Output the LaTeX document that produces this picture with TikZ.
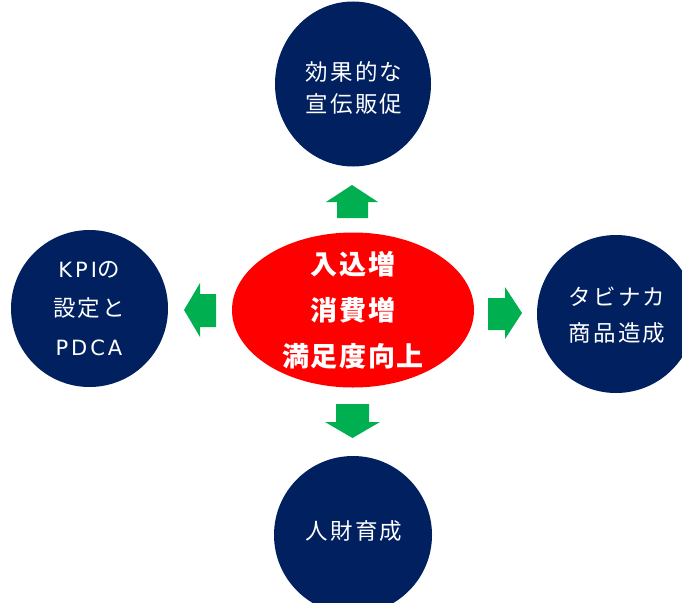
\documentclass[tikz,border=0pt]{standalone}
\usepackage{fontspec}
\usetikzlibrary{shapes.geometric}
\newfontfamily\jp{Noto Sans CJK JP}[LetterSpace=9]
\newfontfamily\jphub{Noto Sans CJK JP}[LetterSpace=6]
\newfontfamily\lat{DejaVu Sans}[LetterSpace=14]
\definecolor{navy}{HTML}{002060}
\definecolor{arrowgreen}{HTML}{00B050}
\definecolor{hubred}{HTML}{FF0000}
\tikzset{
  sat/.style={circle, fill=navy, minimum size=157pt, inner sep=0pt},
  sattext/.style={text=white, align=center, font=\jp\fontsize{22.5}{#1}\selectfont, inner sep=0pt},
  hubtext/.style={text=white, align=center, font=\jphub\bfseries\fontsize{27}{46}\selectfont, inner sep=0pt},
  garrow/.style={fill=arrowgreen}
}
\begin{document}
\begin{tikzpicture}[x=1pt,y=-1pt]
\useasboundingbox (0,0) rectangle (682,602);
\clip (0,0) rectangle (682,602);
% satellites
\node[ellipse, fill=navy, inner sep=0pt, minimum width=156pt, minimum height=165pt] (top) at (353,84) {};
\node[sat] (left) at (89.5,308.5) {};
\node[sat, minimum size=158pt] (right) at (616,314) {};
\node[sat, minimum size=158pt] (bottom) at (353,535) {};
% hub
\node[ellipse, fill=hubred, minimum width=242pt, minimum height=155pt, inner sep=0pt] (hub) at (353,310) {};
% texts
\node[sattext=32] (toptext) at (354,88) {効果的な\\宣伝販促};
\node[sattext=39] (lefttext) at (89,309) {{\lat\fontsize{21}{39}\selectfont KPI}の\\設定と\\{\lat\fontsize{21}{39}\selectfont PDCA}};
\node[sattext=36] (righttext) at (617,315) {タビナカ\\商品造成};
\node[sattext=30] (bottomtext) at (354,531) {人財育成};
\node[hubtext] (hubtxt) at (353,310) {入込増\\消費増\\満足度向上};
% arrows
\fill[garrow] (337,218) -- (337,202) -- (326,202) -- (352,185) -- (378,202) -- (368,202) -- (368,218) -- cycle;
\fill[garrow] (336,404) -- (336,422) -- (325,422) -- (352.5,438) -- (380,422) -- (369,422) -- (369,404) -- cycle;
\fill[garrow] (216,294) -- (200,294) -- (200,283) -- (184,310) -- (200,337) -- (200,327) -- (216,327) -- cycle;
\fill[garrow] (488,298) -- (505,298) -- (505,287) -- (522,313) -- (505,339) -- (505,330) -- (488,330) -- cycle;
\end{tikzpicture}
\end{document}
